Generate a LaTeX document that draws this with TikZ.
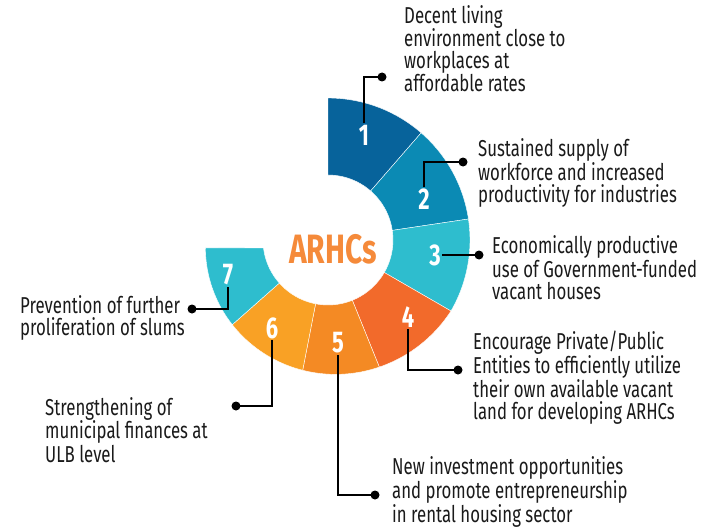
\documentclass[tikz,border=0pt]{standalone}
\usepackage{fontspec}
\setmainfont{Fira Sans}[FakeStretch=0.73]
\definecolor{sa}{HTML}{07639B}
\definecolor{sb}{HTML}{0B8AB4}
\definecolor{sc}{HTML}{2EBDCE}
\definecolor{sd}{HTML}{F26A2B}
\definecolor{se}{HTML}{F48A24}
\definecolor{sf}{HTML}{F9A125}
\definecolor{arhc}{HTML}{F58A3A}
\definecolor{txt}{HTML}{1A1A1A}
\newcommand\ringseg[3]{%
  \fill[#3, draw=white, line width=0.4pt]
    plot[domain=#1:#2, samples=30] ({328+(142-19*max(0,-30-\x)/145)*cos(\x)}, {240-(142-19*max(0,-30-\x)/145)*sin(\x)})
    -- plot[domain=#2:#1, samples=30] ({328+65*cos(\x)}, {240-65*sin(\x)}) -- cycle;}
\begin{document}
\begin{tikzpicture}[x=1pt,y=-1pt,
  lbl/.style={anchor=base west, align=left, inner sep=0, text=txt, font=\fontsize{23}{22}\selectfont},
  num/.style={text=white, font=\bfseries\fontsize{30}{30}\selectfont, inner sep=1.5pt},
  dot/.style={circle, fill=black, inner sep=0, minimum size=9pt},
  conn/.style={line width=1.2pt, black}]
\useasboundingbox (0,0) rectangle (715,527);
% ring
\ringseg{90}{49}{sa}
\ringseg{49}{8.5}{sb}
\ringseg{8.5}{-30}{sc}
\ringseg{-30}{-68}{sd}
\ringseg{-68}{-101}{se}
\ringseg{-101}{-138.5}{sf}
\fill[sc, draw=white, line width=0.4pt]
  plot[domain=-138.5:-176.3, samples=30] ({328+(142-19*max(0,-30-\x)/145)*cos(\x)}, {240-(142-19*max(0,-30-\x)/145)*sin(\x)})
  -- plot[domain=-172.9:-138.5, samples=30] ({328+65*cos(\x)}, {240-65*sin(\x)}) -- cycle;
% centre
\node[text=arhc, font=\bfseries\fontsize{41}{41}\selectfont] (c) at (333,249) {ARHCs};
% numbers
\node[num] (n1) at (364,135) {1};
\node[num] (n2) at (424,199) {2};
\node[num] (n3) at (435,255) {3};
\node[num] (n4) at (408,317) {4};
\node[num] (n5) at (338,343) {5};
\node[num] (n6) at (272,328) {6};
\node[num] (n7) at (228,275) {7};
% dots
\node[dot] (d1) at (382,77) {};
\node[dot] (d2) at (463,162) {};
\node[dot] (d3) at (479,255) {};
\node[dot] (d4) at (458,370) {};
\node[dot] (d5) at (375,495) {};
\node[dot] (d6) at (236,406) {};
\node[dot] (d7) at (192,309) {};
% connectors
\draw[conn] (n1.north) |- (d1.center);
\draw[conn] (n2.north) |- (d2.center);
\draw[conn] (n3.east) -- (d3.center);
\draw[conn] (n4.south) |- (d4.center);
\draw[conn] (n5.south) |- (d5.center);
\draw[conn] (n6.south) |- (d6.center);
\draw[conn] (n7.south) |- (d7.center);
% labels (anchored at the baseline of the last line)
\node[lbl] (t1) at (404,92) {Decent living\\environment close to\\workplaces at\\affordable rates};
\node[lbl] (t2) at (478,202) {Sustained supply of\\workforce and increased\\productivity for industries};
\node[lbl] (t3) at (492,299) {Economically productive\\use of Government-funded\\vacant houses};
\node[lbl] (t4) at (473,419) {Encourage Private/Public\\Entities to efficiently utilize\\their own available vacant\\land for developing ARHCs};
\node[lbl] (t5) at (392,522) {New investment opportunities\\and promote entrepreneurship\\in rental housing sector};
\node[lbl] (t6) at (45,462) {Strengthening of\\municipal finances at\\ULB level};
\node[lbl] (t7) at (20,335) {Prevention of further\\proliferation of slums};
\end{tikzpicture}
\end{document}
